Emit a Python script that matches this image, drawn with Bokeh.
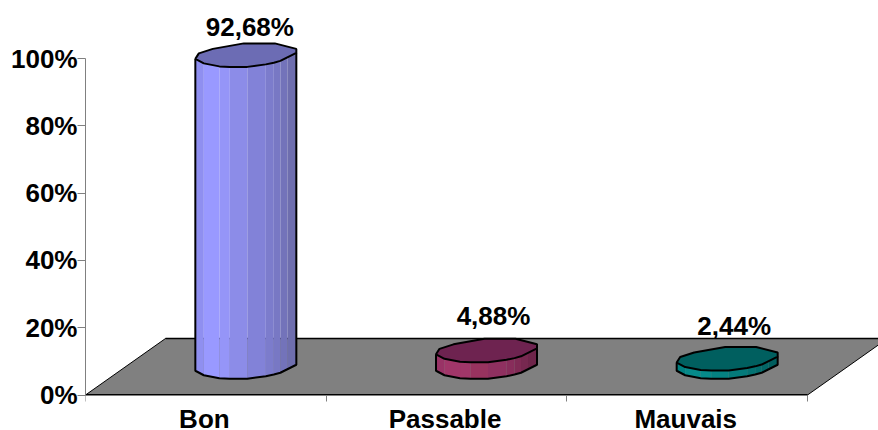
from bokeh.embed import file_html
from bokeh.models import FixedTicker, Range1d
from bokeh.plotting import figure
from bokeh.resources import INLINE
from bokeh.core.properties import value

categories = ["Bon", "Passable", "Mauvais"]
values = [92.68, 4.88, 2.44]
y_ticks = [0, 20, 40, 60, 80, 100]

top_colors = ["#6c6cb4", "#6e2350", "#005f5f"]
# Facet colours of each cylinder, lit from the left
side_colors = [
    ["#8f8ff0", "#9999ff", "#9595f8", "#8c8ce8", "#8282d8", "#7c7ccc", "#7878c4", "#7373ba", "#6e6eae"],
    ["#993366", "#a13669", "#a03669", "#98335f", "#8f3060", "#882d5b", "#802a55", "#772850", "#6e254a"],
    ["#008080", "#068a8a", "#068a8a", "#058282", "#047a7a", "#037272", "#026c6c", "#026666", "#015e5e"],
]
label_offsets = [(4, 28), (7, 34), (7, 33)]

# Pixel scale of the plot and the depth of the oblique floor
PX_PER_CAT = 240.67
PX_PER_PCT = 3.365
LEFT, BOTTOM = 85, 35.5
WIDTH, HEIGHT = 878, 430
DEPTH_X = 80 / PX_PER_CAT
DEPTH_Y = 56.5 / PX_PER_PCT
LABEL_NUDGE = 0.006

# Cross-section of a cylinder, as pixel offsets from its centre
front_section = [(-50.5, -4), (-42, -8.5), (-26.5, -11.5), (-16, -12), (1.5, -12),
                 (20, -9.5), (28, -7.8), (34.5, -6), (41.5, -2.5), (50.5, 2)]
back_section = [(50.5, 6), (29, 11.5), (-2, 11.5), (-33, 6), (-47, 1.5)]

# The frame runs to the bottom of the page; the category axis is pinned at zero inside it
p = figure(
    width=WIDTH, height=HEIGHT, output_backend="svg", toolbar_location=None,
    x_range=Range1d(0, (WIDTH - LEFT) / PX_PER_CAT),
    y_range=Range1d(-BOTTOM / PX_PER_PCT, (HEIGHT - BOTTOM) / PX_PER_PCT),
    min_border_left=LEFT, min_border_bottom=0, min_border_top=0, min_border_right=0,
    background_fill_color="white", border_fill_color="white", outline_line_color=None,
)
p.grid.visible = False

font = "Liberation Sans"
for ax in (p.xaxis[0], p.yaxis[0]):
    ax.axis_line_color = "#808080"
    ax.major_tick_line_color = "#808080"
    ax.minor_tick_line_color = "#808080"
    ax.major_label_text_font = font
    ax.major_label_text_font_style = "bold"
    ax.major_label_text_font_size = "26px"
    ax.major_label_text_color = "black"
    ax.major_tick_in = 0
    ax.minor_tick_in = 0
    ax.minor_tick_out = 0

p.yaxis[0].ticker = FixedTicker(ticks=y_ticks)
p.yaxis[0].bounds = (0, 100)
p.yaxis[0].major_tick_out = 8
p.yaxis[0].major_label_standoff = 0
p.yaxis[0].major_label_overrides = {t: f"{t}%" for t in y_ticks}

# Category names sit between the ticks that separate the categories
centers = [i + 0.5 for i in range(len(categories))]
label_ticks = [c - LABEL_NUDGE for c in centers]
p.xaxis[0].fixed_location = 0
p.xaxis[0].ticker = FixedTicker(ticks=label_ticks, minor_ticks=list(range(len(categories) + 1)))
p.xaxis[0].bounds = (0, len(categories))
p.xaxis[0].major_tick_out = 0
p.xaxis[0].minor_tick_out = 6
p.xaxis[0].major_label_standoff = 3
p.xaxis[0].major_label_overrides = dict(zip(label_ticks, categories))

# Floor of the oblique plot
n = len(categories)
p.patch([0, n, n + DEPTH_X, DEPTH_X], [0, 0, DEPTH_Y, DEPTH_Y],
        fill_color="#808080", line_color="black", line_width=1)
p.line([0, n], [0, 0], line_color="black", line_width=2)
p.line([DEPTH_X, n + DEPTH_X], [DEPTH_Y, DEPTH_Y], line_color="black", line_width=1.5)


def to_data(cx, cy, dx, dy):
    return cx + dx / PX_PER_CAT, cy + dy / PX_PER_PCT


for i, v in enumerate(values):
    cx = centers[i] + DEPTH_X / 2
    base = DEPTH_Y / 2
    top = base + v

    # Side facets, one strip per segment of the front of the section
    xs, ys = [], []
    for (d0, e0), (d1, e1) in zip(front_section[:-1], front_section[1:]):
        x0, _ = to_data(cx, 0, d0, 0)
        x1, _ = to_data(cx, 0, d1, 0)
        xs.append([x0, x1, x1, x0])
        ys.append([base + e0 / PX_PER_PCT, base + e1 / PX_PER_PCT,
                   top + e1 / PX_PER_PCT, top + e0 / PX_PER_PCT])
    p.patches(xs, ys, fill_color=side_colors[i], line_color=None)

    # Silhouette of the sides: up the left, along the base, up the right
    pts = [to_data(cx, top, *front_section[0])]
    pts += [to_data(cx, base, d, e) for d, e in front_section]
    pts += [to_data(cx, top, *front_section[-1])]
    p.line([a for a, _ in pts], [b for _, b in pts], line_color="black", line_width=2)

    # Top cap
    ring = [to_data(cx, top, d, e) for d, e in front_section + back_section]
    p.patch([a for a, _ in ring], [b for _, b in ring],
            fill_color=top_colors[i], line_color="black", line_width=2)

    # Value label above the cap
    ox, oy = label_offsets[i]
    p.text([cx], [top], text=[f"{v:.2f}".replace(".", ",") + "%"],
           x_offset=ox, y_offset=-oy, text_align="center", text_baseline="middle",
           text_font=value(font), text_font_style="bold", text_font_size="26px",
           text_color="black")

open("out.html", "w").write(file_html(p, INLINE))
